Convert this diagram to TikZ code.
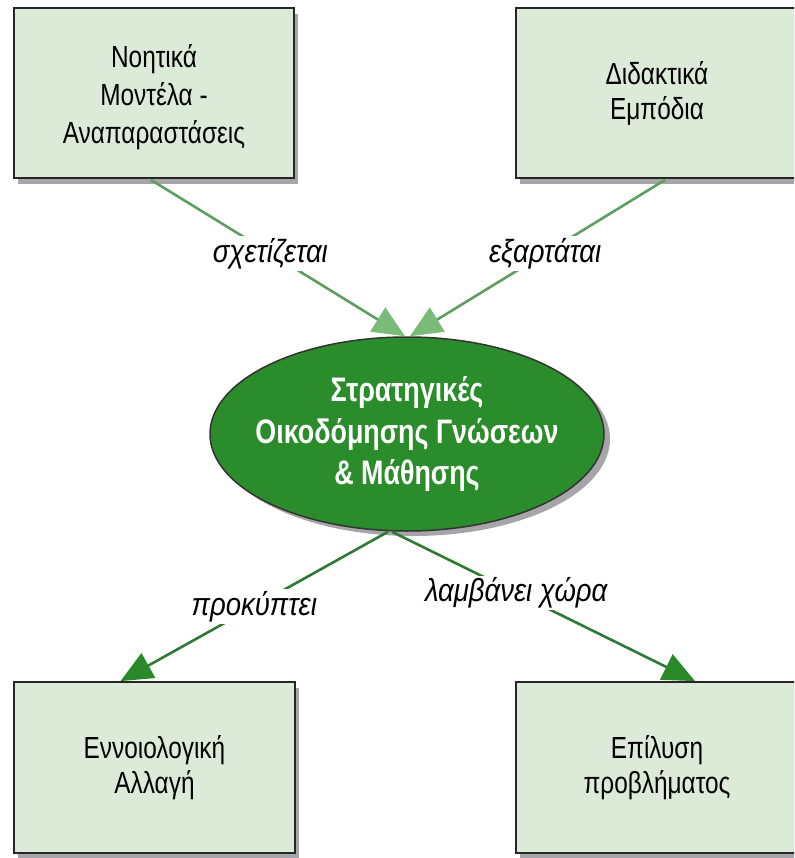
\documentclass[tikz,border=0pt]{standalone}
\usepackage{fontspec}
\setmainfont{Liberation Sans}[FakeStretch=0.80]
\newfontfamily\centralfont{Liberation Sans}[FakeStretch=0.79]
\newfontfamily\relfont{Liberation Sans}[FakeStretch=0.86]
\usetikzlibrary{arrows.meta,shapes.geometric,shadows}
\definecolor{boxfill}{HTML}{DCEBD8}
\definecolor{boxshadow}{HTML}{A6A6AA}
\definecolor{ellfill}{HTML}{2B8C2B}
\definecolor{toplinec}{HTML}{5E9E5E}
\definecolor{topheadc}{HTML}{78BC78}
\definecolor{botlinec}{HTML}{2F7A33}
\definecolor{botheadc}{HTML}{2A8A2A}
\begin{document}
\begin{tikzpicture}[x=1pt,y=-1pt,
  concept/.style={draw=black!85, line width=1.8pt, fill=boxfill, inner sep=0pt,
    align=center, font=\fontsize{30.5}{38}\selectfont,
    drop shadow={shadow xshift=4pt, shadow yshift=-6pt, fill=boxshadow, opacity=1}},
  central/.style={ellipse, draw=black!80, line width=1.5pt, fill=ellfill, inner sep=0pt,
    minimum width=394pt, minimum height=194pt,
    drop shadow={shadow xshift=6pt, shadow yshift=-5pt, fill=boxshadow, opacity=1}},
  centraltext/.style={align=center, text=white, inner sep=0pt,
    font=\centralfont\bfseries\fontsize{34}{41.5}\selectfont},
  toparrow/.style={draw=toplinec, line width=2.6pt,
    -{Triangle[length=32pt,width=28pt,fill=topheadc,color=topheadc]}},
  botarrow/.style={draw=botlinec, line width=2.6pt,
    -{Triangle[length=32pt,width=28pt,fill=botheadc,color=botheadc]}},
  rel/.style={fill=white, inner sep=2pt, font=\relfont\itshape\fontsize{32}{34}\selectfont}
]
\clip (0,0) rectangle (794,858);
\fill[white] (0,0) rectangle (794,858);

\node[concept, minimum width=280pt, minimum height=170pt] (tl) at (154,93)
  {\rule{0pt}{32pt}Νοητικά\\Μοντέλα -\\Αναπαραστάσεις};
\node[concept, minimum width=282pt, minimum height=170pt] (tr) at (657,93)
  {Διδακτικά\\[-3pt]Εμπόδια};
\node[concept, minimum width=281pt, minimum height=171pt] (bl) at (154.5,767.5)
  {Εννοιολογική\\[-3pt]Αλλαγή};
\node[concept, minimum width=282pt, minimum height=171pt] (br) at (657,767.5)
  {Επίλυση\\[-3pt]προβλήματος};

\node[central] (e) at (407,434) {};
\node[centraltext] (et) at (e.center)
  {Στρατηγικές\\Οικοδόμησης Γνώσεων\\\& Μάθησης};

\draw[toparrow] ([xshift=-3pt,yshift=-1pt]tl.south) -- node[rel, pos=0.47] {σχετίζεται} ([xshift=-2pt]e.north);
\draw[toparrow] ([xshift=8pt,yshift=-1pt]tr.south) -- node[rel, pos=0.47] {εξαρτάται} ([xshift=3pt]e.north);
\draw[botarrow] ([xshift=-19pt]e.south) -- node[rel, pos=0.50] {προκύπτει} ([xshift=-34pt]bl.north);
\draw[botarrow] ([xshift=-15pt]e.south) -- node[rel, pos=0.41] {λαμβάνει χώρα} ([xshift=38pt]br.north);
\end{tikzpicture}
\end{document}
